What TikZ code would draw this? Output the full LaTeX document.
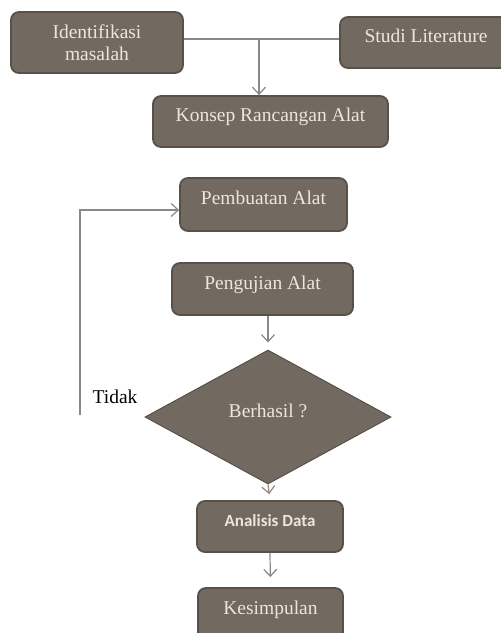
\documentclass[tikz,border=0pt]{standalone}
\usepackage{fontspec}
\setmainfont{Liberation Serif}
\newfontfamily\boxsans{Carlito}
\usepackage{xcolor}
\usetikzlibrary{arrows.meta}
\usetikzlibrary{shapes.geometric}
\usetikzlibrary{calc}
\definecolor{boxfill}{RGB}{114,105,96}
\definecolor{boxline}{RGB}{88,80,73}
\definecolor{boxtext}{RGB}{240,230,214}
\definecolor{conline}{RGB}{140,135,130}

\begin{document}
\begin{tikzpicture}[x=1pt,y=-1pt,
	stepbox/.style={draw=boxline,line width=1.8pt,fill=boxfill,rounded corners=8pt,text=boxtext,inner sep=0pt,font=\fontsize{19.5}{22}\selectfont},
	onerow/.style={text height=13pt,text depth=13pt},
	decision/.style={diamond,draw=boxline,line width=1pt,fill=boxfill,text=boxtext,inner sep=0pt,font=\fontsize{19.5}{22}\selectfont},
	link/.style={draw=conline,line width=1.2pt,-{Straight Barb[length=7pt,width=13pt]}}]
	\clip (0,0) rectangle (501,633);
	
	\node [stepbox,align=center,minimum width=172pt,minimum height=61pt] (idm) at (97,42.5) {Identifikasi\\masalah};
	\node [stepbox,onerow,minimum width=172pt,minimum height=51pt] (studi) at (426,42.5) {Studi Literature};
	\node [stepbox,onerow,minimum width=235pt,minimum height=51pt] (konsep) at (270.5,121.5) {Konsep Rancangan Alat};
	
	\node [stepbox,onerow,minimum width=167pt,minimum height=53pt] (pembuatan) at (263.5,204.5) {Pembuatan Alat};
	\node [stepbox,onerow,minimum width=181pt,minimum height=52pt] (pengujian) at (262.5,289) {Pengujian Alat};
	
	\node [decision,onerow,minimum width=246pt,minimum height=134pt] (berhasil) at (268,417) {Berhasil ?};
	\node [anchor=base,font=\fontsize{19.5}{22}\selectfont] (tidak) at (115,403) {Tidak};
	
	\node [stepbox,onerow,minimum width=146pt,minimum height=51pt,font=\boxsans\bfseries\fontsize{17}{20}\selectfont] (analisis) at (270,526.5) {Analisis Data};
	\node [stepbox,onerow,minimum width=145pt,minimum height=52pt] (kesimpulan) at (270.5,614) {Kesimpulan};
	
	% joining line of the two start boxes
	\coordinate [] (jn) at (259,39);
	\draw[conline,line width=1.2pt] ([yshift=3.5pt]idm.east) -- ([yshift=3.5pt]studi.west);
	\draw[link] (jn) -- (jn |- konsep.north);
	
	% back to Pembuatan Alat
	\coordinate [] (fb) at (80,415);
	\draw[link] (fb) |- ([yshift=-5.5pt]pembuatan.west);
	
	\draw[link] (pengujian.south -| berhasil.north) -- ([yshift=7pt]berhasil.north);
	\draw[link,shorten >=6pt] (berhasil.south) -- (analisis.north);
	\draw[link,shorten >=10pt] (analisis.south) -- (kesimpulan.north);
	
\end{tikzpicture}
\end{document}
